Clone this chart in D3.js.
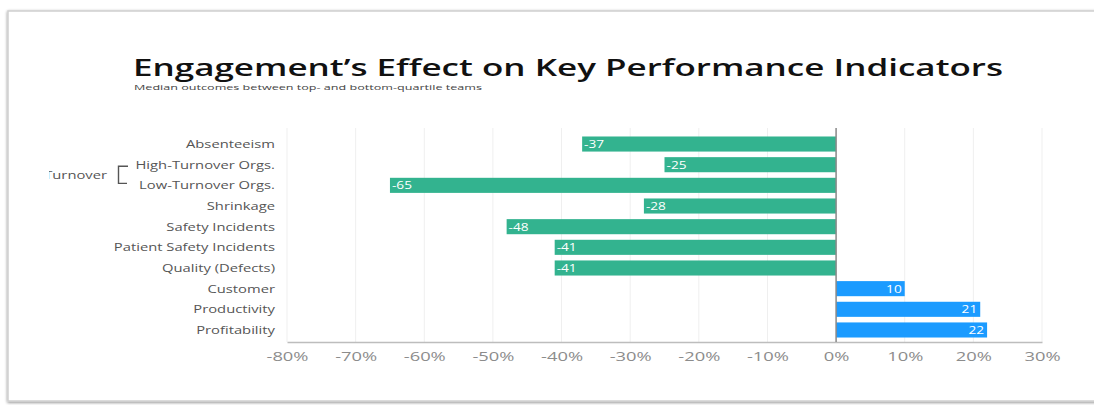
<!DOCTYPE html>
<html lang="en">
<head>
<meta charset="UTF-8">
<title>Engagement's Effect on Key Performance Indicators</title>
<style>
  body { margin: 0; background: #fff; }
  svg { display: block; }
</style>
</head>
<body>
<script src="https://cdnjs.cloudflare.com/ajax/libs/d3/7.8.5/d3.min.js"></script>
<script>
'use strict';
// data
const categories = ["Absenteeism", "High-Turnover Orgs.", "Low-Turnover Orgs.", "Shrinkage",
  "Safety Incidents", "Patient Safety Incidents", "Quality (Defects)",
  "Customer", "Productivity", "Profitability"];
const values = [-37, -25, -65, -28, -48, -41, -41, 10, 21, 22];
const tickValues = [-80, -70, -60, -50, -40, -30, -20, -10, 0, 10, 20, 30];
const groupLabel = "Turnover";
const groupMembers = ["High-Turnover Orgs.", "Low-Turnover Orgs."];

const W = 1094, H = 405;
const svg = d3.select("body").append("svg")
  .attr("width", W)
  .attr("height", H);

// card frame with soft shadow
const defs = svg.append("defs");
const f = defs.append("filter").attr("id", "shadow")
  .attr("x", -0.05).attr("y", -0.05).attr("width", 1.1).attr("height", 1.1);
f.append("feGaussianBlur").attr("in", "SourceAlpha").attr("stdDeviation", 1.6);
f.append("feOffset").attr("dx", -0.5).attr("dy", 0.5).attr("result", "b");
f.append("feComponentTransfer").append("feFuncA").attr("type", "linear").attr("slope", 0.45);
const m = f.append("feMerge");
m.append("feMergeNode");
m.append("feMergeNode").attr("in", "SourceGraphic");

svg.append("rect")
  .attr("x", 8).attr("y", 11)
  .attr("width", W + 20).attr("height", 390)
  .attr("fill", "#fff")
  .attr("stroke", "#cfcfcf")
  .attr("stroke-width", 1.5)
  .attr("filter", "url(#shadow)");

defs.append("clipPath").attr("id", "cardClip")
  .append("rect").attr("x", 49).attr("y", 12).attr("width", W).attr("height", 388);

// stretch text horizontally to the widths seen in the picture
function stretch(sel, factor) {
  sel.each(function() {
    const w = this.getComputedTextLength();
    d3.select(this).attr("textLength", w * factor).attr("lengthAdjust", "spacingAndGlyphs");
  });
}
function factorFor(node, target) {
  return target / node.getComputedTextLength();
}

// titles
svg.append("text")
  .attr("x", 133).attr("y", 76)
  .attr("font-family", "'Open Sans', sans-serif")
  .attr("font-weight", 600)
  .attr("font-size", 23)
  .attr("fill", "#111")
  .text("Engagement\u2019s Effect on Key Performance Indicators")
  .attr("textLength", 870).attr("lengthAdjust", "spacingAndGlyphs");

svg.append("text")
  .attr("x", 134).attr("y", 90)
  .attr("font-family", "'Open Sans', sans-serif")
  .attr("font-size", 8)
  .attr("fill", "#444")
  .text("Median outcomes between top- and bottom-quartile teams")
  .attr("textLength", 348).attr("lengthAdjust", "spacingAndGlyphs");

// scales
const x = d3.scaleLinear().domain([-80, 30]).range([287, 1042]);
const y = d3.scaleBand().domain(categories).range([133.7, 340.3])
  .paddingInner(0.27).paddingOuter(0.135);
const plotTop = 128, plotBottom = 342;

// grid
svg.append("g")
  .selectAll("line")
  .data(tickValues)
  .join("line")
    .attr("x1", d => x(d)).attr("x2", d => x(d))
    .attr("y1", plotTop).attr("y2", plotBottom)
    .attr("stroke", "#efefef")
    .attr("stroke-width", 1);

// bars
svg.append("g")
  .selectAll("rect")
  .data(values)
  .join("rect")
    .attr("x", d => x(Math.min(0, d)))
    .attr("y", (d, i) => y(categories[i]))
    .attr("width", d => Math.abs(x(d) - x(0)))
    .attr("height", y.bandwidth())
    .attr("fill", d => d < 0 ? "#33b38f" : "#1b9bff");

// bar labels
const barLabels = svg.append("g")
  .attr("font-family", "'Open Sans', sans-serif")
  .attr("font-size", 11)
  .attr("font-weight", 500)
  .attr("fill", "#fff")
  .selectAll("text")
  .data(values)
  .join("text")
    .attr("x", d => d < 0 ? x(d) + 2 : x(d) - 3)
    .attr("y", (d, i) => y(categories[i]) + y.bandwidth() / 2 + 4)
    .attr("text-anchor", d => d < 0 ? "start" : "end")
    .text(d => d);
stretch(barLabels, factorFor(barLabels.node(), 20));

// x axis
const xAxis = svg.append("g")
  .attr("transform", `translate(0,${plotBottom})`)
  .call(d3.axisBottom(x).tickValues(tickValues).tickSize(0).tickPadding(10)
    .tickFormat(d => d + "%"));
xAxis.select(".domain").attr("stroke", "#bdbdbd").attr("stroke-width", 1.5);
const tickText = xAxis.selectAll("text")
  .attr("font-family", "'Open Sans', sans-serif")
  .attr("font-size", 12)
  .attr("fill", "#8c8c8c");
stretch(tickText, factorFor(tickText.node(), 42));

// zero line
svg.append("line")
  .attr("x1", x(0)).attr("x2", x(0))
  .attr("y1", plotTop).attr("y2", plotBottom)
  .attr("stroke", "#8a8a8a")
  .attr("stroke-width", 1.5);

// y labels
const yLabels = svg.append("g")
  .attr("font-family", "'Open Sans', sans-serif")
  .attr("font-size", 10.5)
  .attr("fill", "#555")
  .selectAll("text")
  .data(categories)
  .join("text")
    .attr("x", 275)
    .attr("y", d => y(d) + y.bandwidth() / 2 + 4)
    .attr("text-anchor", "end")
    .text(d => d);
const labelFactor = factorFor(yLabels.node(), 89);
stretch(yLabels, labelFactor);

// group bracket for turnover
const gy1 = y(groupMembers[0]) + y.bandwidth() / 2 + 1.5;
const gy2 = y(groupMembers[1]) + y.bandwidth() / 2 - 2;
svg.append("path")
  .attr("d", `M128,${gy1}H118.5V${gy2}H127`)
  .attr("fill", "none")
  .attr("stroke", "#555")
  .attr("stroke-width", 1.4);
svg.append("text")
  .attr("x", 107).attr("y", (gy1 + gy2) / 2 + 4)
  .attr("text-anchor", "end")
  .attr("font-family", "'Open Sans', sans-serif")
  .attr("font-size", 10.5)
  .attr("fill", "#555")
  .attr("clip-path", "url(#cardClip)")
  .text(groupLabel)
  .call(stretch, labelFactor);
</script>
</body>
</html>
